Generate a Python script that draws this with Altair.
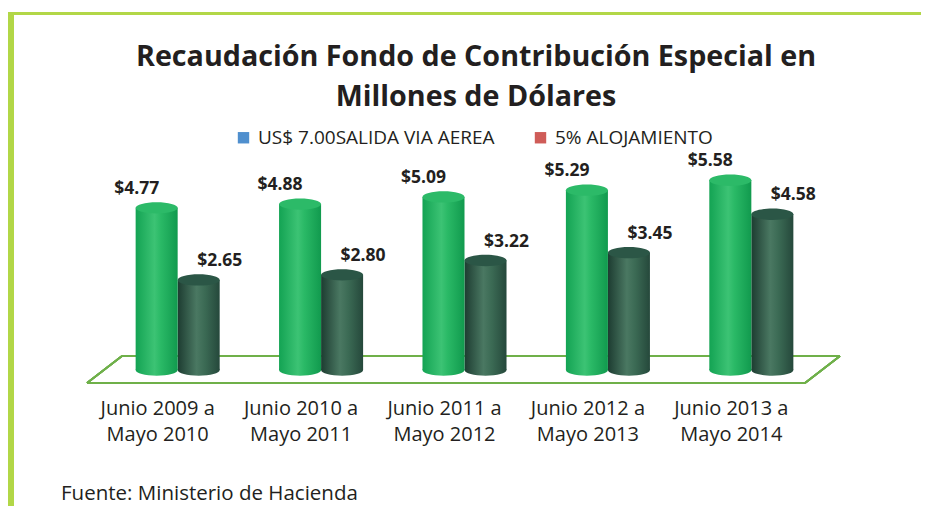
import altair as alt
import pandas as pd

categories = ["Junio 2009 a\nMayo 2010", "Junio 2010 a\nMayo 2011", "Junio 2011 a\nMayo 2012",
              "Junio 2012 a\nMayo 2013", "Junio 2013 a\nMayo 2014"]
series = ["US$ 7.00SALIDA VIA AEREA", "5% ALOJAMIENTO"]
salida = [4.77, 4.88, 5.09, 5.29, 5.58]
alojamiento = [2.65, 2.80, 3.22, 3.45, 4.58]
legend_colors = ["#4f8fce", "#cf5c58"]

title_lines = ["Recaudación Fondo de Contribución Especial en", "Millones de Dólares"]
source_text = "Fuente: Ministerio de Hacienda"

rows = []
for i, c in enumerate(categories):
    rows.append({"cat": c, "series": series[0], "value": salida[i], "base": 0.0})
    rows.append({"cat": c, "series": series[1], "value": alojamiento[i], "base": 0.0})
df = pd.DataFrame(rows)
df["label"] = df["value"].map(lambda v: f"${v:.2f}")

W, H = 913, 498
FONT = "Open Sans"
TXT = "#231f20"

x_enc = alt.X("cat:N", sort=categories, axis=None,
              scale=alt.Scale(domain=categories, paddingInner=0.414, paddingOuter=0.89))
xo_enc = alt.XOffset("series:N", scale=alt.Scale(domain=series, paddingInner=0, paddingOuter=0))
y_scale = alt.Scale(domain=[-4.0, 10.647], nice=False, zero=False)

ELL = "M -1 0 A 1 0.27 0 1 0 1 0 A 1 0.27 0 1 0 -1 0 Z"

def hgrad(stops):
    return {"gradient": "linear", "x1": 0, "x2": 1, "y1": 0, "y2": 0,
            "stops": [{"offset": o, "color": c} for o, c in stops]}

light_body = hgrad([(0, "#13a353"), (0.45, "#3cc374"), (0.6, "#2ab966"), (1, "#119a4e")])
dark_body = hgrad([(0, "#1d3c31"), (0.45, "#4a7862"), (0.65, "#3b6a54"), (1, "#25483b")])
light_top = "#2cba68"
dark_top = "#2b5646"

base = alt.Chart(df)

def cylinder(sname, body, top):
    d = base.transform_filter(alt.datum.series == sname)
    bottom = d.mark_point(shape=ELL, size=1764, filled=True, fill=body, strokeWidth=0, opacity=1).encode(
        x=x_enc, xOffset=xo_enc, y=alt.Y("base:Q", scale=y_scale, axis=None))
    bar = d.mark_bar(fill=body, strokeWidth=0).encode(
        x=x_enc, xOffset=xo_enc, y=alt.Y("value:Q", scale=y_scale, axis=None), y2="base:Q")
    cap = d.mark_point(shape=ELL, size=1764, filled=True, fill=top, strokeWidth=0, opacity=1).encode(
        x=x_enc, xOffset=xo_enc, y=alt.Y("value:Q", scale=y_scale, axis=None))
    return [bottom, bar, cap]

def value_labels(sname, dx):
    d = base.transform_filter(alt.datum.series == sname)
    return d.mark_text(font=FONT, fontWeight="bold", fontSize=17.5, color=TXT, dx=dx, dy=-19).encode(
        x=x_enc, xOffset=xo_enc, y=alt.Y("value:Q", scale=y_scale, axis=None), text="label:N")

# legend (real Vega-Lite legend driven by series names)
legend_layer = base.mark_point(shape="square", filled=True, opacity=0, size=10).encode(
    x=x_enc, xOffset=xo_enc, y=alt.Y("value:Q", scale=y_scale, axis=None),
    color=alt.Color("series:N", scale=alt.Scale(domain=series, range=legend_colors),
                    legend=alt.Legend(orient="none", legendX=226, legendY=120, direction="horizontal",
                                      title=None, symbolType="square", symbolSize=130, symbolOpacity=1,
                                      symbolStrokeWidth=0, labelFontSize=19, labelFont=FONT,
                                      labelColor=TXT, labelOffset=5, columnPadding=36,
                                      labelLimit=0, padding=0)))

# category labels
cat_df = pd.DataFrame({"cat": categories})
cat_labels = alt.Chart(cat_df).mark_text(font=FONT, fontSize=20, color=TXT, lineBreak="\n",
                                         baseline="top", lineHeight=26, dx=-20).encode(
    x=x_enc, y=alt.value(391), text="cat:N")

# title
title_df = pd.DataFrame({"t": title_lines})
title = alt.Chart(title_df).mark_text(font=FONT, fontWeight="bold", fontSize=28.7, color=TXT,
                                      lineBreak="\n", baseline="top", lineHeight=40).encode(
    x=alt.value(468), y=alt.value(35), text=alt.Text("tt:N")
).transform_aggregate(tt="values(t)").transform_calculate(tt="join(pluck(datum.tt, 't'), '\\n')")

source = alt.Chart(pd.DataFrame({"s": [source_text]})).mark_text(
    font=FONT, fontSize=20.5, color=TXT, align="left", baseline="alphabetic").encode(
    x=alt.value(53), y=alt.value(492), text="s:N")

# floor (decoration)
FL = "#6fb04a"
floor = [
    alt.Chart(cat_df).mark_rule(color=FL, strokeWidth=1.6).encode(x=alt.value(114), x2=alt.value(832), y=alt.value(348), y2=alt.value(348)),
    alt.Chart(cat_df).mark_rule(color=FL, strokeWidth=1.6).encode(x=alt.value(79), x2=alt.value(797), y=alt.value(375), y2=alt.value(375)),
    alt.Chart(cat_df).mark_rule(color=FL, strokeWidth=1.6).encode(x=alt.value(79), x2=alt.value(114), y=alt.value(375), y2=alt.value(348)),
    alt.Chart(cat_df).mark_rule(color=FL, strokeWidth=1.6).encode(x=alt.value(797), x2=alt.value(832), y=alt.value(375), y2=alt.value(348)),
]

# frame (decoration)
BORDER = "#b2d747"
frame = [
    alt.Chart(cat_df).mark_rule(color=BORDER, strokeWidth=6).encode(x=alt.value(3), x2=alt.value(3), y=alt.value(4), y2=alt.value(H)),
    alt.Chart(cat_df).mark_rule(color=BORDER, strokeWidth=3).encode(x=alt.value(0), x2=alt.value(W), y=alt.value(5.5), y2=alt.value(5.5)),
]

layers = frame + floor + [legend_layer]
layers += cylinder(series[1], dark_body, dark_top)
layers += cylinder(series[0], light_body, light_top)
layers += [value_labels(series[0], -20), value_labels(series[1], 21), cat_labels, title, source]

chart = alt.layer(*layers).properties(
    width=W, height=H, padding=0, autosize=alt.AutoSizeParams(type="none"), background="white"
).configure_view(stroke=None)

chart.save("out.html", embed_options={"renderer": "svg", "actions": False})
